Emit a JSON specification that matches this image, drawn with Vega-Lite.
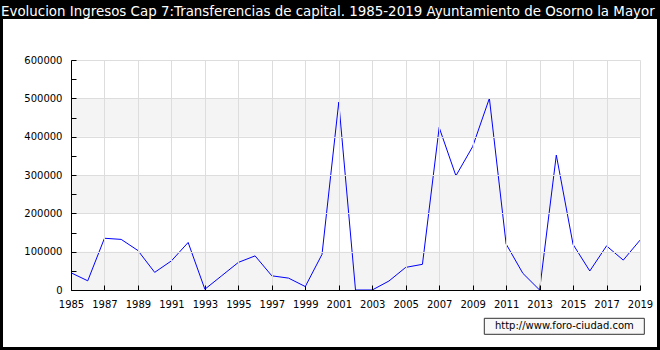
{
  "$schema": "https://vega.github.io/schema/vega-lite/v6.json",
  "autosize": "none",
  "width": 569,
  "height": 230,
  "padding": {"left": 71, "top": 60, "right": 20, "bottom": 60},
  "background": "black",
  "title": {
    "text": "Evolucion Ingresos Cap 7:Transferencias de capital. 1985-2019 Ayuntamiento de Osorno la Mayor",
    "anchor": "start",
    "frame": "group",
    "dx": -70,
    "offset": -10,
    "baseline": "alphabetic",
    "font": "DejaVu Sans",
    "fontSize": 13.4,
    "fontWeight": "normal",
    "color": "white"
  },
  "config": {
    "axis": {
      "format": "d",
      "grid": true,
      "gridColor": "#dddddd",
      "domainColor": "black",
      "tickColor": "black",
      "tickSize": -5,
      "labelFont": "DejaVu Sans",
      "labelFontSize": 10,
      "labelColor": "black",
      "labelFlush": false,
      "labelOverlap": false,
      "title": null
    }
  },
  "datasets": {
    "ingresos": [
      {"year": 1985, "value": 45000},
      {"year": 1986, "value": 24000},
      {"year": 1987, "value": 135000},
      {"year": 1988, "value": 132000},
      {"year": 1989, "value": 103000},
      {"year": 1990, "value": 46000},
      {"year": 1991, "value": 76000},
      {"year": 1992, "value": 124000},
      {"year": 1993, "value": 2000},
      {"year": 1994, "value": 37000},
      {"year": 1995, "value": 72000},
      {"year": 1996, "value": 89000},
      {"year": 1997, "value": 37000},
      {"year": 1998, "value": 31000},
      {"year": 1999, "value": 9000},
      {"year": 2000, "value": 93000},
      {"year": 2001, "value": 490000},
      {"year": 2002, "value": 0},
      {"year": 2003, "value": 0},
      {"year": 2004, "value": 23500},
      {"year": 2005, "value": 59000},
      {"year": 2006, "value": 67000},
      {"year": 2007, "value": 424000},
      {"year": 2008, "value": 298000},
      {"year": 2009, "value": 374000},
      {"year": 2010, "value": 500000},
      {"year": 2011, "value": 120000},
      {"year": 2012, "value": 43500},
      {"year": 2013, "value": 0},
      {"year": 2014, "value": 352000},
      {"year": 2015, "value": 119000},
      {"year": 2016, "value": 49600},
      {"year": 2017, "value": 115000},
      {"year": 2018, "value": 78000},
      {"year": 2019, "value": 130000}
    ],
    "bands": [
      {"lo": 0, "hi": 100000},
      {"lo": 200000, "hi": 300000},
      {"lo": 400000, "hi": 500000}
    ]
  },
  "layer": [
    {
      "data": {"values": [{}]},
      "mark": {"type": "rect", "fill": "white", "clip": false},
      "encoding": {
        "x": {"datum": 1980.937, "type": "quantitative", "scale": {"domain": [1985, 2019], "nice": false, "zero": false},
          "axis": {"values": [1985, 1987, 1989, 1991, 1993, 1995, 1997, 1999, 2001, 2003, 2005, 2007, 2009, 2011, 2013, 2015, 2017, 2019], "labelPadding": 14, "labelOverlap": false, "gridOpacity": 1, "zindex": 1}},
        "x2": {"datum": 2020.016},
        "y": {"datum": 706957, "type": "quantitative", "scale": {"domain": [0, 600000], "nice": false},
          "axis": {"values": [0, 50000, 100000, 150000, 200000, 250000, 300000, 350000, 400000, 450000, 500000, 550000, 600000],
            "labelExpr": "datum.value % 100000 === 0 ? datum.label : ''", "labelPadding": 14, "labelOverlap": false, "zindex": 1,
            "gridOpacity": {"condition": {"test": "datum.value % 100000 === 0 && datum.value > 0", "value": 1}, "value": 0}}},
        "y2": {"datum": -148696}
      }
    },
    {
      "data": {"name": "bands"},
      "mark": {"type": "rect", "fill": "#f4f4f4"},
      "encoding": {
        "x": {"datum": 1985, "type": "quantitative",
          "axis": {"values": [1985, 1987, 1989, 1991, 1993, 1995, 1997, 1999, 2001, 2003, 2005, 2007, 2009, 2011, 2013, 2015, 2017, 2019], "labelPadding": 14, "labelOverlap": false, "gridOpacity": 1, "zindex": 1}},
        "x2": {"datum": 2019},
        "y": {"field": "lo", "type": "quantitative",
          "axis": {"values": [0, 50000, 100000, 150000, 200000, 250000, 300000, 350000, 400000, 450000, 500000, 550000, 600000],
            "labelExpr": "datum.value % 100000 === 0 ? datum.label : ''", "labelPadding": 14, "labelOverlap": false, "zindex": 1,
            "gridOpacity": {"condition": {"test": "datum.value % 100000 === 0 && datum.value > 0", "value": 1}, "value": 0}}},
        "y2": {"field": "hi"}
      }
    },
    {
      "data": {"name": "ingresos"},
      "mark": {"type": "line", "color": "#0000ff", "strokeWidth": 1},
      "encoding": {
        "x": {"field": "year", "type": "quantitative",
          "axis": {"values": [1985, 1987, 1989, 1991, 1993, 1995, 1997, 1999, 2001, 2003, 2005, 2007, 2009, 2011, 2013, 2015, 2017, 2019], "labelPadding": 14, "labelOverlap": false, "gridOpacity": 1, "zindex": 1}},
        "y": {"field": "value", "type": "quantitative",
          "axis": {"values": [0, 50000, 100000, 150000, 200000, 250000, 300000, 350000, 400000, 450000, 500000, 550000, 600000],
            "labelExpr": "datum.value % 100000 === 0 ? datum.label : ''", "labelPadding": 14, "labelOverlap": false, "zindex": 1,
            "gridOpacity": {"condition": {"test": "datum.value % 100000 === 0 && datum.value > 0", "value": 1}, "value": 0}}}
      }
    },
    {
      "data": {"values": [{}]},
      "mark": {"type": "rect", "fill": "#f8f8f8", "stroke": "#333333", "strokeWidth": 1, "clip": false},
      "encoding": {
        "x": {"datum": 2009.697, "type": "quantitative",
          "axis": {"values": [1985, 1987, 1989, 1991, 1993, 1995, 1997, 1999, 2001, 2003, 2005, 2007, 2009, 2011, 2013, 2015, 2017, 2019], "labelPadding": 14, "labelOverlap": false, "gridOpacity": 1, "zindex": 1}},
        "x2": {"datum": 2019.258},
        "y": {"datum": -73826, "type": "quantitative",
          "axis": {"values": [0, 50000, 100000, 150000, 200000, 250000, 300000, 350000, 400000, 450000, 500000, 550000, 600000],
            "labelExpr": "datum.value % 100000 === 0 ? datum.label : ''", "labelPadding": 14, "labelOverlap": false, "zindex": 1,
            "gridOpacity": {"condition": {"test": "datum.value % 100000 === 0 && datum.value > 0", "value": 1}, "value": 0}}},
        "y2": {"datum": -115565}
      }
    },
    {
      "data": {"values": [{}]},
      "mark": {"type": "text", "text": "http://www.foro-ciudad.com", "font": "DejaVu Sans", "fontSize": 10, "color": "black", "align": "center", "baseline": "middle", "clip": false},
      "encoding": {
        "x": {"datum": 2014.48, "type": "quantitative",
          "axis": {"values": [1985, 1987, 1989, 1991, 1993, 1995, 1997, 1999, 2001, 2003, 2005, 2007, 2009, 2011, 2013, 2015, 2017, 2019], "labelPadding": 14, "labelOverlap": false, "gridOpacity": 1, "zindex": 1}},
        "y": {"datum": -94696, "type": "quantitative",
          "axis": {"values": [0, 50000, 100000, 150000, 200000, 250000, 300000, 350000, 400000, 450000, 500000, 550000, 600000],
            "labelExpr": "datum.value % 100000 === 0 ? datum.label : ''", "labelPadding": 14, "labelOverlap": false, "zindex": 1,
            "gridOpacity": {"condition": {"test": "datum.value % 100000 === 0 && datum.value > 0", "value": 1}, "value": 0}}}
      }
    }
  ]
}
